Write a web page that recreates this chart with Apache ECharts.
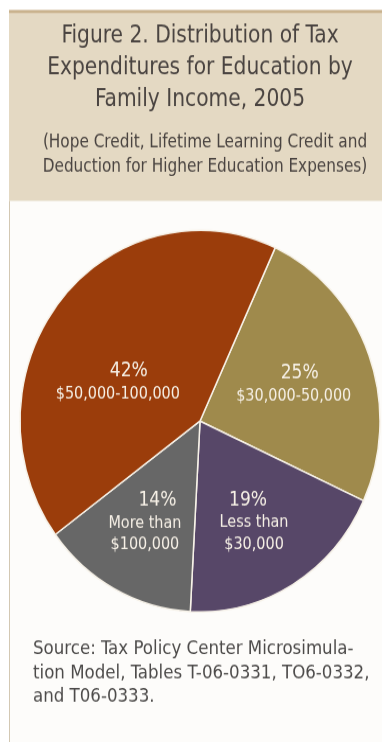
<!DOCTYPE html>
<html>
<head>
<meta charset="utf-8">
<script src="https://cdn.jsdelivr.net/npm/echarts@6/dist/echarts.min.js"></script>
<style>
  html, body { margin: 0; padding: 0; background: #ffffff; }
  body { width: 382px; height: 742px; }
  /* the printed figure is slightly taller than it is wide, so the drawing is stretched vertically */
  #chart { width: 382px; height: 700px; transform: scaleY(1.06); transform-origin: 0 0; }
</style>
</head>
<body>
<div id="chart"></div>
<script>
// Income groups, clockwise from the upper-right boundary
const categories = ['$30,000-50,000', 'Less than\n$30,000', 'More than\n$100,000', '$50,000-100,000'];
// Share of education tax expenditures (%)
const shares = [25, 19, 14, 42];
const sliceColors = ['#9f8a4c', '#574768', '#676767', '#9b3d0b'];
// Label nudges so each text block sits where the print layout puts it
const labelOffsets = [[6.5, -2], [6, 16], [-11, 14], [-10, 22]];
// Horizontal nudge of the percentage line inside each label: [left pad, right pad]
const pctPads = [[12, 0], [0, 12], [25, 0], [22, 0]];

const titleText = 'Figure 2. Distribution of Tax\nExpenditures for Education by\nFamily Income, 2005';
const subtitleText = '(Hope Credit, Lifetime Learning Credit and\nDeduction for Higher Education Expenses)';
const sourceText = 'Source: Tax Policy Center Microsimula-\ntion Model, Tables T-06-0331, TO6-0332,\nand T06-0333.';

const FONT = '"DejaVu Sans Condensed", "Liberation Sans Narrow", "Liberation Sans", sans-serif';

const chart = echarts.init(document.getElementById('chart'), null, { renderer: 'canvas' });

chart.setOption({
  backgroundColor: '#ffffff',
  animation: false,
  graphic: [
    // page panel
    { type: 'rect', z: -10, shape: { x: 9, y: 9.4, width: 373, height: 700 }, style: { fill: '#fdfcfa' } },
    // header band
    { type: 'rect', z: -9, shape: { x: 9, y: 9.4, width: 373, height: 180.2 }, style: { fill: '#e4d9c3' } },
    { type: 'rect', z: -8, shape: { x: 9, y: 9.4, width: 373, height: 2.8 }, style: { fill: '#c9b28d' } },
    { type: 'rect', z: -8, shape: { x: 9, y: 189.6, width: 1, height: 520 }, style: { fill: '#d3c8b3' } },
    {
      type: 'text', z: 5, x: 200, y: 64.2,
      style: { text: titleText, font: '22.5px ' + FONT, fill: '#4a4441', align: 'center', verticalAlign: 'middle', lineHeight: 30.2 }
    },
    {
      type: 'text', z: 5, x: 205, y: 146.2,
      style: { text: subtitleText, font: '17px ' + FONT, fill: '#4a4441', align: 'center', verticalAlign: 'middle', lineHeight: 22.6 }
    },
    {
      type: 'text', z: 5, x: 33, y: 634.9,
      style: { text: sourceText, font: '18.5px ' + FONT, fill: '#4d4b4a', align: 'left', verticalAlign: 'middle', lineHeight: 22.6 }
    }
  ],
  series: [{
    type: 'pie',
    center: [200, 397.2],
    radius: 180,
    startAngle: 65.3,
    clockwise: true,
    avoidLabelOverlap: false,
    itemStyle: { borderColor: '#f7f2e8', borderWidth: 1.5 },
    label: {
      show: true,
      position: 'inside',
      formatter: p => '{p|' + p.value + '%}\n{n|' + p.name + '}',
      color: '#f6f0e6',
      align: 'center',
      rich: {
        p: { fontFamily: FONT, fontSize: 19, color: '#f6f0e6', lineHeight: 21.7, align: 'center' },
        n: { fontFamily: FONT, fontSize: 16, color: '#f6f0e6', lineHeight: 20.8, align: 'center' }
      }
    },
    labelLine: { show: false },
    emphasis: { disabled: true },
    data: categories.map((name, i) => ({
      name: name,
      value: shares[i],
      itemStyle: { color: sliceColors[i] },
      label: {
        offset: labelOffsets[i],
        rich: { p: { padding: [0, pctPads[i][1], 0, pctPads[i][0]] } }
      }
    }))
  }]
});
</script>
</body>
</html>
